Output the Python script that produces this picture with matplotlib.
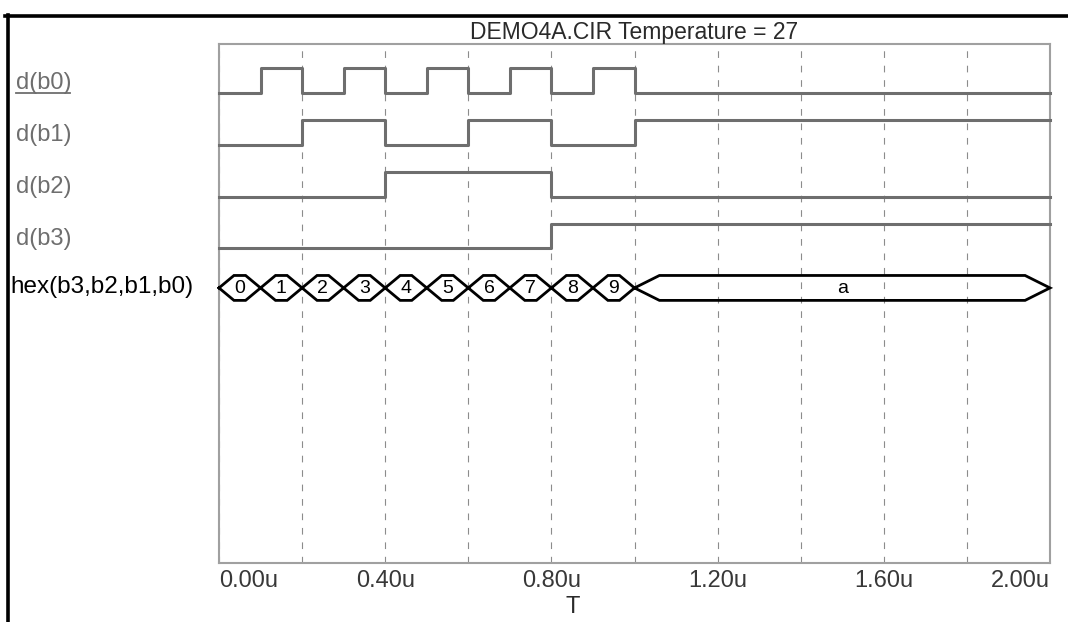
import matplotlib
matplotlib.use('Agg')
import matplotlib.pyplot as plt
import matplotlib.transforms as mtransforms
from matplotlib.lines import Line2D
from matplotlib.ticker import MultipleLocator

plt.rcParams['font.family'] = ['Liberation Sans', 'DejaVu Sans']

# ---- data ----
seg_start = [0.0, 0.1, 0.2, 0.3, 0.4, 0.5, 0.6, 0.7, 0.8, 0.9, 1.0]
seg_end = [0.1, 0.2, 0.3, 0.4, 0.5, 0.6, 0.7, 0.8, 0.9, 1.0, 2.0]
b0 = [0, 1, 0, 1, 0, 1, 0, 1, 0, 1, 0]
b1 = [0, 0, 1, 1, 0, 0, 1, 1, 0, 0, 1]
b2 = [0, 0, 0, 0, 1, 1, 1, 1, 0, 0, 0]
b3 = [0, 0, 0, 0, 0, 0, 0, 0, 1, 1, 1]
hex_labels = ['0', '1', '2', '3', '4', '5', '6', '7', '8', '9', 'a']
signal_names = ['d(b0)', 'd(b1)', 'd(b2)', 'd(b3)']
bus_name = 'hex(b3,b2,b1,b0)'
xtick_vals = [0.0, 0.4, 0.8, 1.2, 1.6, 2.0]
xtick_labels = ['0.00u', '0.40u', '0.80u', '1.20u', '1.60u', '2.00u']
grid_step = 0.2
title = 'DEMO4A.CIR Temperature = 27'
xlabel = 'T'

# ---- figure ----
W, H = 1068, 622
fig = plt.figure(figsize=(W / 100, H / 100), dpi=100)
ax_l, ax_r, ax_t, ax_b = 219, 1050, 44, 563
ax = fig.add_axes([ax_l / W, 1 - ax_b / H, (ax_r - ax_l) / W, (ax_b - ax_t) / H])
ax.set_xlim(0, 2.0)
ax.set_ylim(10, 0)

sig_color = '#6e6e6e'
box_color = '#a0a0a0'

for sp in ax.spines.values():
    sp.set_color(box_color)
    sp.set_linewidth(1.5)

ax.set_yticks([])
ax.set_xticks(xtick_vals, xtick_labels)
ax.xaxis.set_minor_locator(MultipleLocator(grid_step))
ax.tick_params(axis='x', which='both', length=0, pad=5, labelsize=17, labelcolor='#383838')
ax.grid(which='both', axis='x', color='#8c8c8c', linestyle=(0, (6, 7)), linewidth=0.8)
ax.set_axisbelow(True)
labs = ax.get_xticklabels()
labs[0].set_ha('left')
labs[-1].set_ha('right')

# digital signals
amp = 0.475
for k, bits in enumerate([b0, b1, b2, b3]):
    low = k + 0.94
    xs = seg_start + [seg_end[-1]]
    ys = [low - amp * v for v in bits] + [low - amp * bits[-1]]
    ax.step(xs, ys, where='post', color=sig_color, linewidth=2.2, zorder=3, clip_on=False)

# bus (hex) display
c = 4.70
h = 0.24
for t0, t1, lab in zip(seg_start, seg_end, hex_labels):
    d = min(0.06, 0.36 * (t1 - t0))
    px = [t0, t0 + d, t1 - d, t1, t1 - d, t0 + d, t0]
    py = [c, c - h, c - h, c, c + h, c + h, c]
    ax.plot(px, py, color='black', linewidth=2.0, zorder=4, clip_on=False,
            solid_joinstyle='miter')
    ax.text((t0 + t1) / 2, c + 0.02, lab, ha='center', va='center', fontsize=14,
            color='black', zorder=5)

# signal names on the left
trans = mtransforms.blended_transform_factory(fig.transFigure, ax.transData)
for k, name in enumerate(signal_names):
    ax.text(16 / W, k + 0.75, name, transform=trans, ha='left', va='center',
            fontsize=17, color='#6e6e6e')
ax.text(10 / W, c - 0.02, bus_name, transform=trans, ha='left', va='center',
        fontsize=17.5, color='black')
# underline of selected trace name
fig.add_artist(Line2D([16 / W, 70 / W], [1 - 92.5 / H, 1 - 92.5 / H],
                      transform=fig.transFigure, color='#6e6e6e', linewidth=1.3))

# title and x label
ax.set_title(title, fontsize=16.5, color='#2a2a2a', pad=3)
ax.set_xlabel(xlabel, fontsize=17, color='#2a2a2a')
ax.xaxis.set_label_coords((573 - ax_l) / (ax_r - ax_l), -0.063)

# black frame lines (top and left)
fig.add_artist(Line2D([5 / W, 1.0], [1 - 16 / H, 1 - 16 / H], transform=fig.transFigure,
                      color='black', linewidth=2.6))
fig.add_artist(Line2D([7.5 / W, 7.5 / W], [1 - 14.5 / H, 0.0], transform=fig.transFigure,
                      color='black', linewidth=2.6))

fig.savefig('out.png', dpi=100, facecolor='white')
